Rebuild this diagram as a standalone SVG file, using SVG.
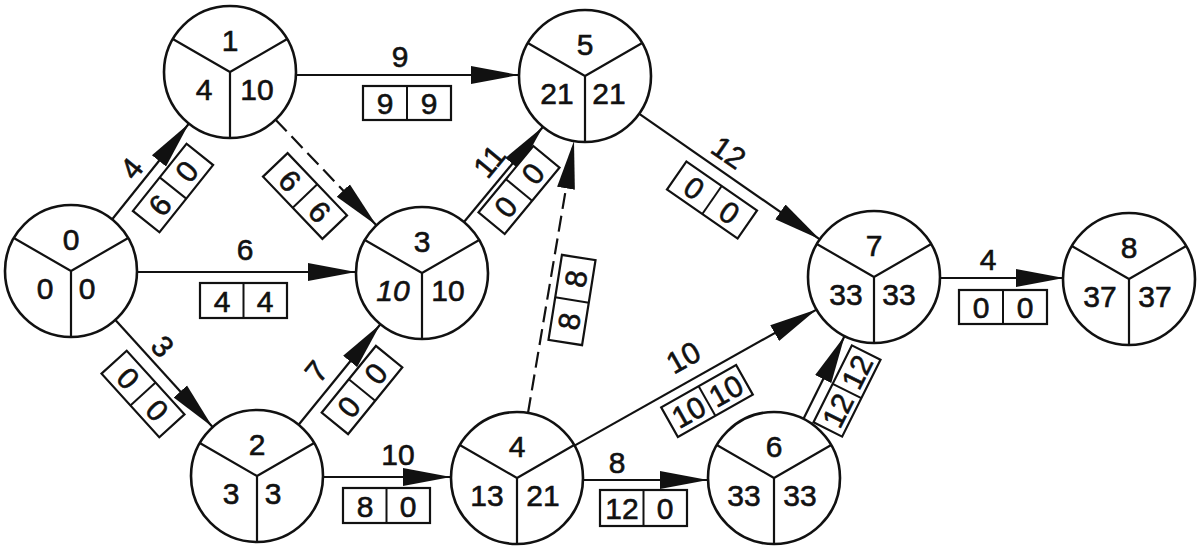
<svg xmlns="http://www.w3.org/2000/svg" width="1199" height="550" viewBox="0 0 1199 550">
<style>
  text { font-family: "Liberation Sans", Arial, sans-serif; font-size: 30px; fill: #111; stroke: #111; stroke-width: 0.6; text-anchor: middle; }
  .node circle { fill: #fff; stroke: #111; stroke-width: 2.6; }
  .node path { fill: none; stroke: #111; stroke-width: 2.2; }
  .edge line { stroke: #111; stroke-width: 2.2; marker-end: url(#ah); }
  .edge line.dash { stroke-dasharray: 16 7; }
  .box rect { fill: #fff; stroke: #111; stroke-width: 2.2; }
  .box line { stroke: #111; stroke-width: 2; marker-end: none; }
</style>
<defs>
  <marker id="ah" markerUnits="userSpaceOnUse" markerWidth="50" markerHeight="20" refX="48" refY="10" orient="auto">
    <path d="M0,1 L48,10 L0,19 Z" fill="#111"/>
  </marker>
</defs>
<rect width="1199" height="550" fill="#fff"/>

<g id="connectors">
  <g class="edge" id="e0-1">
    <line x1="112" y1="219.5" x2="189" y2="123.5"/>
    <text transform="translate(131,168) rotate(-51.4)" y="11">4</text>
    <g class="box" transform="translate(173,188) rotate(-51.4)"><rect x="-43" y="-17" width="86" height="34"/><line x1="0" y1="-17" x2="0" y2="17"/><text x="-21.5" y="11">6</text><text x="21.5" y="11">0</text></g>
  </g>
  <g class="edge" id="e0-3">
    <line x1="137" y1="272" x2="356" y2="272"/>
    <text x="245" y="260">6</text>
    <g class="box" transform="translate(243.5,300.5)"><rect x="-43.5" y="-17.5" width="87" height="35"/><line x1="0" y1="-17.5" x2="0" y2="17.5"/><text x="-21.5" y="11">4</text><text x="21.5" y="11">4</text></g>
  </g>
  <g class="edge" id="e0-2">
    <line x1="115.4" y1="319.9" x2="212.6" y2="427"/>
    <text transform="translate(163,346) rotate(47.8)" y="11">3</text>
    <g class="box" transform="translate(143,394) rotate(47.8)"><rect x="-43" y="-17" width="86" height="34"/><line x1="0" y1="-17" x2="0" y2="17"/><text x="-21.5" y="11">0</text><text x="21.5" y="11">0</text></g>
  </g>
  <g class="edge" id="e1-5">
    <line x1="296" y1="75" x2="519" y2="75"/>
    <text x="400" y="67">9</text>
    <g class="box" transform="translate(407,103)"><rect x="-44" y="-17" width="88" height="34"/><line x1="0" y1="-17" x2="0" y2="17"/><text x="-22" y="11">9</text><text x="22" y="11">9</text></g>
  </g>
  <g class="edge" id="e1-3">
    <line class="dash" x1="275.6" y1="119.7" x2="376.4" y2="225.3"/>
    <g class="box" transform="translate(305,196) rotate(46.3)"><rect x="-43" y="-17" width="86" height="34"/><line x1="0" y1="-17" x2="0" y2="17"/><text x="-21.5" y="11">6</text><text x="21.5" y="11">6</text></g>
  </g>
  <g class="edge" id="e2-3">
    <line x1="298.6" y1="424.8" x2="380.4" y2="324.2"/>
    <text transform="translate(316,371) rotate(-50.9)" y="11">7</text>
    <g class="box" transform="translate(362,390) rotate(-50.9)"><rect x="-43" y="-17" width="86" height="34"/><line x1="0" y1="-17" x2="0" y2="17"/><text x="-21.5" y="11">0</text><text x="21.5" y="11">0</text></g>
  </g>
  <g class="edge" id="e2-4">
    <line x1="323" y1="477" x2="451" y2="477"/>
    <text x="398" y="465">10</text>
    <g class="box" transform="translate(386.5,505.5)"><rect x="-43.5" y="-17.5" width="87" height="35"/><line x1="0" y1="-17.5" x2="0" y2="17.5"/><text x="-21.5" y="11">8</text><text x="21.5" y="11">0</text></g>
  </g>
  <g class="edge" id="e3-5">
    <line x1="464" y1="222" x2="543" y2="126.8"/>
    <text transform="translate(489,161) rotate(-50.4)" y="11">11</text>
    <g class="box" transform="translate(519,190) rotate(-50.4)"><rect x="-43" y="-17" width="86" height="34"/><line x1="0" y1="-17" x2="0" y2="17"/><text x="-21.5" y="11">0</text><text x="21.5" y="11">0</text></g>
  </g>
  <g class="edge" id="e4-5">
    <line class="dash" x1="528" y1="413" x2="574" y2="141"/>
    <g class="box" transform="translate(572,300) rotate(-81)"><rect x="-43" y="-17" width="86" height="34"/><line x1="0" y1="-17" x2="0" y2="17"/><text x="-21.5" y="11">8</text><text x="21.5" y="11">8</text></g>
  </g>
  <g class="edge" id="e4-6">
    <line x1="583" y1="480" x2="708" y2="480"/>
    <text x="617" y="473">8</text>
    <g class="box" transform="translate(643.5,508)"><rect x="-43.5" y="-18" width="87" height="36"/><line x1="0" y1="-18" x2="0" y2="18"/><text x="-21.5" y="11">12</text><text x="21.5" y="11">0</text></g>
  </g>
  <g class="edge" id="e4-7">
    <line x1="574.5" y1="445.6" x2="816.5" y2="309.6"/>
    <text transform="translate(683,357) rotate(-29.4)" y="11">10</text>
    <g class="box" transform="translate(707,401) rotate(-29.4)"><rect x="-43" y="-17" width="86" height="34"/><line x1="0" y1="-17" x2="0" y2="17"/><text x="-21.5" y="11">10</text><text x="21.5" y="11">10</text></g>
  </g>
  <g class="edge" id="e5-7">
    <line x1="639" y1="113.7" x2="819.8" y2="239.3"/>
    <text transform="translate(729,152) rotate(34.8)" y="11">12</text>
    <g class="box" transform="translate(712,200) rotate(34.8)"><rect x="-43" y="-17" width="86" height="34"/><line x1="0" y1="-17" x2="0" y2="17"/><text x="-21.5" y="11">0</text><text x="21.5" y="11">0</text></g>
  </g>
  <g class="edge" id="e6-7">
    <line x1="803.4" y1="418.9" x2="844.6" y2="336.1"/>
    <g class="box" transform="translate(847,391) rotate(-63.5)"><rect x="-43" y="-16" width="86" height="32"/><line x1="0" y1="-16" x2="0" y2="16"/><text x="-21.5" y="11">12</text><text x="21.5" y="11">12</text></g>
  </g>
  <g class="edge" id="e7-8">
    <line x1="941" y1="278" x2="1064" y2="278"/>
    <text x="988" y="270">4</text>
    <g class="box" transform="translate(1003,307)"><rect x="-44" y="-17" width="88" height="34"/><line x1="0" y1="-17" x2="0" y2="17"/><text x="-22" y="11">0</text><text x="22" y="11">0</text></g>
  </g>
</g>

<g id="node0" class="node" transform="translate(71,271)"><circle r="66"/><path d="M0,0V66M0,0L-57.2,-33M0,0L57.2,-33"/><text y="-21">0</text><text x="-26" y="28">0</text><text x="16" y="28">0</text></g>
<g id="node1" class="node" transform="translate(230,72)"><circle r="66"/><path d="M0,0V66M0,0L-57.2,-33M0,0L57.2,-33"/><text y="-21">1</text><text x="-26" y="28">4</text><text x="27" y="28">10</text></g>
<g id="node2" class="node" transform="translate(257,476)"><circle r="66"/><path d="M0,0V66M0,0L-57.2,-33M0,0L57.2,-33"/><text y="-21">2</text><text x="-26" y="28">3</text><text x="16" y="28">3</text></g>
<g id="node3" class="node" transform="translate(422,273)"><circle r="66"/><path d="M0,0V66M0,0L-57.2,-33M0,0L57.2,-33"/><text y="-21">3</text><text x="-29" y="28" font-style="italic">10</text><text x="26" y="28">10</text></g>
<g id="node4" class="node" transform="translate(517,478)"><circle r="66"/><path d="M0,0V66M0,0L-57.2,-33M0,0L57.2,-33"/><text y="-21">4</text><text x="-30" y="28">13</text><text x="26" y="28">21</text></g>
<g id="node5" class="node" transform="translate(585,76)"><circle r="66"/><path d="M0,0V66M0,0L-57.2,-33M0,0L57.2,-33"/><text y="-21">5</text><text x="-28" y="28">21</text><text x="24" y="28">21</text></g>
<g id="node6" class="node" transform="translate(774,478)"><circle r="66"/><path d="M0,0V66M0,0L-57.2,-33M0,0L57.2,-33"/><text y="-21">6</text><text x="-30" y="28">33</text><text x="26" y="28">33</text></g>
<g id="node7" class="node" transform="translate(874,277)"><circle r="66"/><path d="M0,0V66M0,0L-57.2,-33M0,0L57.2,-33"/><text y="-21">7</text><text x="-28" y="28">33</text><text x="25" y="28">33</text></g>
<g id="node8" class="node" transform="translate(1129,279)"><circle r="66"/><path d="M0,0V66M0,0L-57.2,-33M0,0L57.2,-33"/><text y="-21">8</text><text x="-29" y="28">37</text><text x="26" y="28">37</text></g>
</svg>
